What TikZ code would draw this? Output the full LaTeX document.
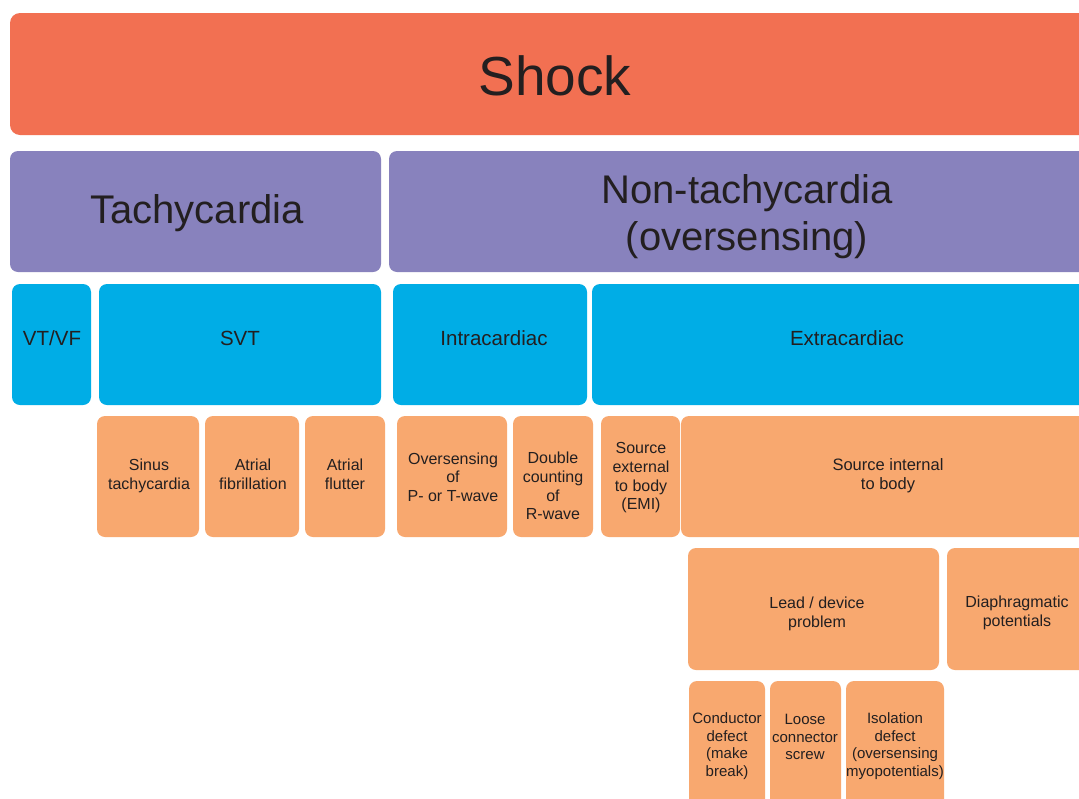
\documentclass[tikz,border=0pt]{standalone}
\usepackage{fontspec}
\setmainfont{Liberation Sans}
\definecolor{cshock}{HTML}{F27052}
\definecolor{cpurp}{HTML}{8882BD}
\definecolor{cblue}{HTML}{00ADE6}
\definecolor{corng}{HTML}{F8A86F}
\definecolor{ctext}{HTML}{231F20}
\tikzset{
  box/.style={fill=#1, draw=none, rounded corners=8pt, inner sep=0pt, outer sep=0pt},
  lbl/.style={text=ctext, align=center, inner sep=0pt, font=#1},
}
\begin{document}
\begin{tikzpicture}[x=1pt,y=-1pt]
\useasboundingbox (0,0) rectangle (1079,798);
\fill[white] (0,0) rectangle (1079,798);
\clip (0,0) rectangle (1079,798);
% level 0
\node[box=cshock, rounded corners=10pt, minimum width=1090pt, minimum height=122pt] (shock) at (555,74) {};
\node[lbl={\fontsize{55}{60}\selectfont}] (tshock) at (555,76) {Shock};
% level 1
\node[box=cpurp, minimum width=371pt, minimum height=121pt] (tachy) at (195.5,211.5) {};
\node[lbl={\fontsize{40}{47}\selectfont}] (ttachy) at (197,213) {Tachycardia};
\node[box=cpurp, minimum width=711pt, minimum height=121pt] (nontachy) at (744.5,211.5) {};
\node[lbl={\fontsize{40}{47}\selectfont}] (tnontachy) at (747,217) {Non-tachycardia\\(oversensing)};
% level 2
\node[box=cblue, minimum width=79pt, minimum height=121pt] (vtvf) at (51.5,344.5) {};
\node[lbl={\fontsize{20.5}{24}\selectfont}] (tvtvf) at (52,338.5) {VT/VF};
\node[box=cblue, minimum width=282pt, minimum height=121pt] (svt) at (240,344.5) {};
\node[lbl={\fontsize{20.5}{24}\selectfont}] (tsvt) at (240,338.5) {SVT};
\node[box=cblue, minimum width=194pt, minimum height=121pt] (intra) at (490,344.5) {};
\node[lbl={\fontsize{20.5}{24}\selectfont}] (tintra) at (494,338.5) {Intracardiac};
\node[box=cblue, minimum width=508pt, minimum height=121pt] (extra) at (846,344.5) {};
\node[lbl={\fontsize{20.5}{24}\selectfont}] (textra) at (847,338.5) {Extracardiac};
% level 3
\node[box=corng, minimum width=102pt, minimum height=121pt] (sinus) at (148,476.5) {};
\node[lbl={\fontsize{16}{18.7}\selectfont}] (tsinus) at (149,476) {Sinus\\tachycardia};
\node[box=corng, minimum width=94pt, minimum height=121pt] (afib) at (252,476.5) {};
\node[lbl={\fontsize{16}{18.7}\selectfont}] (tafib) at (253,474.5) {Atrial\\fibrillation};
\node[box=corng, minimum width=80pt, minimum height=121pt] (aflut) at (345,476.5) {};
\node[lbl={\fontsize{16}{18.7}\selectfont}] (taflut) at (345,474.5) {Atrial\\flutter};
\node[box=corng, minimum width=110pt, minimum height=121pt] (over) at (452,476.5) {};
\node[lbl={\fontsize{16}{18.5}\selectfont}] (tover) at (453,477) {Oversensing\\of\\P- or T-wave};
\node[box=corng, minimum width=80pt, minimum height=121pt] (double) at (553,476.5) {};
\node[lbl={\fontsize{16}{18.7}\selectfont}] (tdouble) at (553,486) {Double\\counting\\of\\R-wave};
\node[box=corng, minimum width=79pt, minimum height=121pt] (srcext) at (640.5,476.5) {};
\node[lbl={\fontsize{16}{18.7}\selectfont}] (tsrcext) at (641,478) {Source\\external\\to body\\(EMI)};
\node[box=corng, minimum width=419pt, minimum height=121pt] (srcint) at (890.5,476.5) {};
\node[lbl={\fontsize{16.5}{18.7}\selectfont}] (tsrcint) at (888,476) {Source internal\\to body};
% level 4
\node[box=corng, minimum width=251pt, minimum height=122pt] (lead) at (813.5,609) {};
\node[lbl={\fontsize{16}{18.7}\selectfont}] (tlead) at (817,614) {Lead / device\\problem};
\node[box=corng, minimum width=153pt, minimum height=122pt] (diaph) at (1023.5,609) {};
\node[lbl={\fontsize{16}{18.7}\selectfont}] (tdiaph) at (1017,613) {Diaphragmatic\\potentials};
% level 5
\node[box=corng, minimum width=76pt, minimum height=129pt] (cond) at (727,745.5) {};
\node[lbl={\fontsize{15}{17.7}\selectfont}] (tcond) at (727,746) {Conductor\\defect\\(make\\break)};
\node[box=corng, minimum width=71pt, minimum height=129pt] (loose) at (805.5,745.5) {};
\node[lbl={\fontsize{15}{17.7}\selectfont}] (tloose) at (805,737) {Loose\\connector\\screw};
\node[box=corng, minimum width=98pt, minimum height=129pt] (iso) at (895,745.5) {};
\node[lbl={\fontsize{15}{17.7}\selectfont}] (tiso) at (895,746) {Isolation\\defect\\(oversensing\\myopotentials)};
\end{tikzpicture}
\end{document}
